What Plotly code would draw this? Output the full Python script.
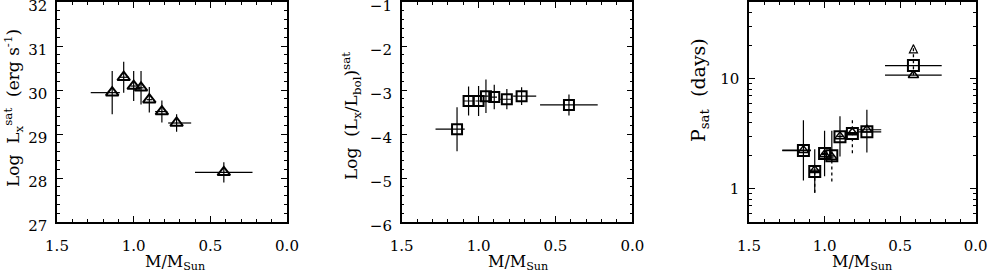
import plotly.graph_objects as go
import math

# ---------------- data ----------------
mass = [1.14, 1.065, 1.00, 0.952, 0.898, 0.816, 0.72, 0.412]
mass_hi = [1.28, 1.095, 1.02, 0.97, 0.915, 0.86, 0.775, 0.60]
mass_lo = [1.09, 1.03, 0.98, 0.935, 0.88, 0.78, 0.625, 0.225]

# panel 1: log Lx sat
lx_sat = [29.94, 30.29, 30.09, 30.05, 29.78, 29.51, 29.25, 28.13]
lx_err = [0.49, 0.35, 0.34, 0.38, 0.29, 0.25, 0.2, 0.23]

# panel 2: log (Lx/Lbol) sat
rx_sat = [-3.89, -3.25, -3.25, -3.14, -3.16, -3.21, -3.14, -3.34]
rx_err = [0.5, 0.33, 0.34, 0.38, 0.28, 0.23, 0.2, 0.24]

# panel 3: P_sat (days), squares and triangles
psat_sq = [2.23, 1.44, 2.1, 2.0, 2.98, 3.19, 3.3, 13.2]
psat_sq_hi = [4.2, 2.29, 3.37, 3.37, 4.57, 3.19, 5.25, 13.2]
psat_sq_lo = [1.19, 0.92, 1.3, 1.77, 1.97, 3.19, 2.14, 13.2]
psat_tri = [2.25, 1.48, 2.05, 1.95, 3.0, 3.25, 3.45, 10.8]
psat_tri_hi = [2.25, 1.48, 2.05, 1.95, 3.0, 4.4, 3.45, 20.4]
psat_tri_lo = [2.25, 0.92, 2.05, 1.17, 3.0, 2.11, 3.45, 10.8]
psat_tri_limit = [0, 0, 0, 0, 0, 0, 0, 1]

# ---------------- figure ----------------
FONT = "DejaVu Serif"
BLACK = "black"
ex_plus = [h - m for h, m in zip(mass_hi, mass)]
ex_minus = [m - l for m, l in zip(mass, mass_lo)]

def xerr():
    return dict(type="data", array=ex_plus, arrayminus=ex_minus, width=0,
                thickness=1.2, color=BLACK, symmetric=False)

fig = go.Figure()

fig.add_trace(go.Scatter(
    x=mass, y=lx_sat, mode="markers", xaxis="x", yaxis="y",
    marker=dict(symbol="triangle-up-open", size=11, color=BLACK, line=dict(width=2, color=BLACK)),
    error_x=xerr(),
    error_y=dict(type="data", array=lx_err, width=0, thickness=1.2, color=BLACK),
    showlegend=False))

fig.add_trace(go.Scatter(
    x=mass, y=rx_sat, mode="markers", xaxis="x2", yaxis="y2",
    marker=dict(symbol="square-open", size=10, color=BLACK, line=dict(width=2, color=BLACK)),
    error_x=xerr(),
    error_y=dict(type="data", array=rx_err, width=0, thickness=1.2, color=BLACK),
    showlegend=False))

# panel 3 triangles: dotted error segments built from the data
dx, dy = [], []
for m, lo, hi in zip(mass, psat_tri_lo, psat_tri_hi):
    if hi > lo:
        dx += [m, m, None]
        dy += [lo, hi, None]
fig.add_trace(go.Scatter(x=dx, y=dy, mode="lines", xaxis="x3", yaxis="y3",
                         line=dict(color=BLACK, width=1.3, dash="dot"), showlegend=False))

fig.add_trace(go.Scatter(
    x=mass, y=psat_tri, mode="markers", xaxis="x3", yaxis="y3",
    marker=dict(symbol="triangle-up-open", size=9, color=BLACK, line=dict(width=1.5, color=BLACK)),
    error_x=xerr(), showlegend=False))

fig.add_trace(go.Scatter(
    x=mass, y=psat_sq, mode="markers", xaxis="x3", yaxis="y3",
    marker=dict(symbol="square-open", size=11, color=BLACK, line=dict(width=2, color=BLACK)),
    error_x=xerr(),
    error_y=dict(type="data", symmetric=False,
                 array=[h - v for h, v in zip(psat_sq_hi, psat_sq)],
                 arrayminus=[v - l for v, l in zip(psat_sq, psat_sq_lo)],
                 width=0, thickness=1.2, color=BLACK),
    showlegend=False))

# arrow heads for lower limits
ax_, ay_ = [], []
for m, hi, lim in zip(mass, psat_tri_hi, psat_tri_limit):
    if lim:
        ax_.append(m)
        ay_.append(hi)
fig.add_trace(go.Scatter(x=ax_, y=ay_, mode="markers", xaxis="x3", yaxis="y3",
                         marker=dict(symbol="arrow-up-open", size=8, color=BLACK,
                                     line=dict(width=1.2, color=BLACK)),
                         showlegend=False))

tickfont = dict(family=FONT, size=15, color=BLACK)
common = dict(showline=True, linecolor=BLACK, linewidth=1.5, mirror="ticks",
              ticks="inside", ticklen=6, tickwidth=1, tickcolor=BLACK,
              showgrid=False, zeroline=False, tickfont=tickfont,
              ticklabeloverflow="allow", automargin=False)

def xax(domain, anchor):
    return dict(domain=domain, anchor=anchor, range=[1.5, 0.0], tickvals=[1.5, 1.0, 0.5, 0.0],
                ticktext=["1.5", "1.0", "0.5", "0.0"], ticklabelstandoff=9,
                minor=dict(ticks="inside", ticklen=3, dtick=0.1, tickcolor=BLACK, showgrid=False),
                **common)

ydom = [1 - 222 / 277, 1 - 2 / 277]
fig.update_layout(
    width=989, height=277, margin=dict(l=0, r=0, t=0, b=0, autoexpand=False),
    paper_bgcolor="white", plot_bgcolor="white",
    xaxis=xax([57 / 989, 287 / 989], "y"),
    xaxis2=xax([401.7 / 989, 632.3 / 989], "y2"),
    xaxis3=xax([749 / 989, 975.7 / 989], "y3"),
    yaxis=dict(domain=ydom, anchor="x", range=[27, 32], dtick=1, ticklabelstandoff=5,
               ticklabelshift=4,
               minor=dict(ticks="inside", ticklen=3, dtick=0.2, tickcolor=BLACK, showgrid=False),
               **common),
    yaxis2=dict(domain=ydom, anchor="x2", range=[-6, -1], dtick=1, ticklabelstandoff=5,
                ticklabelshift=4,
                minor=dict(ticks="inside", ticklen=3, dtick=0.2, tickcolor=BLACK, showgrid=False),
                **common),
    yaxis3=dict(domain=ydom, anchor="x3", type="log", range=[math.log10(0.5), math.log10(50)],
                tickvals=[1, 10], ticktext=["1", "10"], ticklabelstandoff=5,
                minor=dict(ticks="inside", ticklen=3, tickcolor=BLACK, showgrid=False,
                           tickvals=[0.6, 0.7, 0.8, 0.9, 2, 3, 4, 5, 6, 7, 8, 9, 20, 30, 40, 50]),
                **common),
)

tfont = dict(family=FONT, size=17, color=BLACK)
pfont = dict(family=FONT, size=19, color=BLACK)
xfont = dict(family=FONT, size=16, color=BLACK)
titles = [
    dict(x=13 / 989, y=1 - 108 / 277, text="Log  L<sub>x</sub><sup>sat</sup>  (erg s<sup>-1</sup>)", textangle=-90, f=tfont),
    dict(x=352 / 989, y=1 - 116 / 277, text="Log  (L<sub>x</sub>/L<sub>bol</sub>)<sup>sat</sup>", textangle=-90, f=tfont),
    dict(x=700 / 989, y=1 - 90 / 277, text="P<sub>sat</sub>  (days)", textangle=-90, f=pfont),
    dict(x=175 / 989, y=1 - 262 / 277, text="M/M<sub>Sun</sub>", textangle=0, f=xfont),
    dict(x=518 / 989, y=1 - 262 / 277, text="M/M<sub>Sun</sub>", textangle=0, f=xfont),
    dict(x=862 / 989, y=1 - 262 / 277, text="M/M<sub>Sun</sub>", textangle=0, f=xfont),
]
for t in titles:
    fig.add_annotation(x=t["x"], y=t["y"], xref="paper", yref="paper", text=t["text"],
                       textangle=t["textangle"], showarrow=False, font=t["f"],
                       xanchor="center", yanchor="middle")

fig.write_html("out.html", config={"displayModeBar": False},
               post_script="document.body.style.margin='0px';document.body.style.overflow='hidden';")
